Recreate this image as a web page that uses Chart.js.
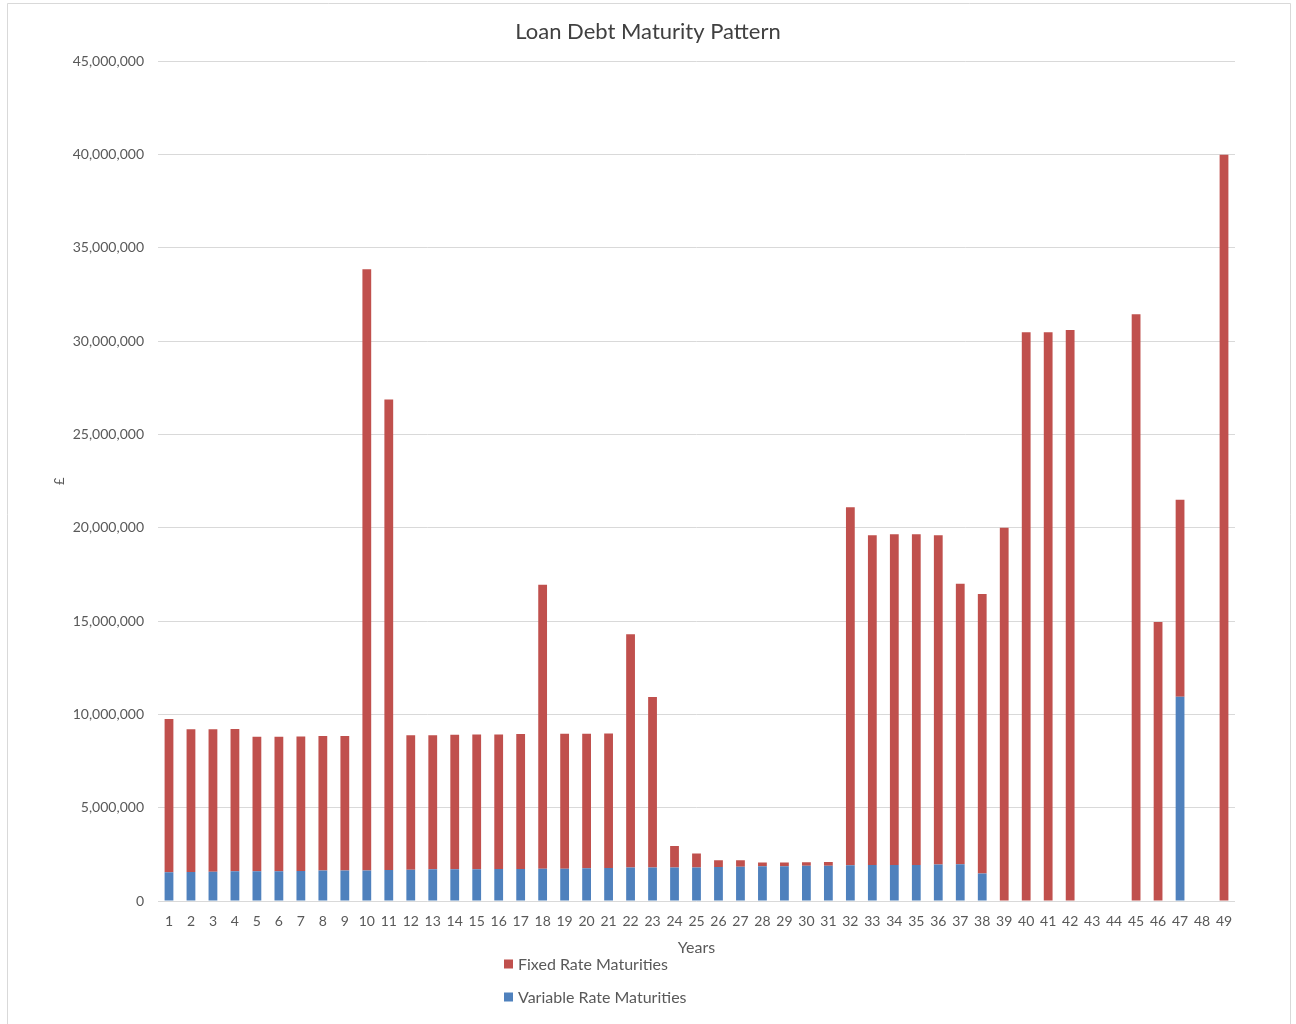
<!DOCTYPE html>
<html>
<head>
<meta charset="utf-8">
<title>Loan Debt Maturity Pattern</title>
<script src="https://cdn.jsdelivr.net/npm/chart.js@4.4.1/dist/chart.umd.min.js"></script>
<style>
  html, body { margin: 0; padding: 0; background: #ffffff; }
  #wrap { position: relative; width: 1296px; height: 1024px; }
  canvas { display: block; }
</style>
</head>
<body>
<div id="wrap"><canvas id="chart" width="1296" height="1024"></canvas></div>
<script>
// Maturity years
const years = ["1","2","3","4","5","6","7","8","9","10",
  "11","12","13","14","15","16","17","18","19","20",
  "21","22","23","24","25","26","27","28","29","30",
  "31","32","33","34","35","36","37","38","39","40",
  "41","42","43","44","45","46","47","48","49"];

// Variable rate maturities (£ millions)
const variableRate = [1.54,1.55,1.57,1.59,1.59,1.59,1.61,1.63,1.63,1.64,
  1.66,1.68,1.70,1.70,1.70,1.71,1.71,1.73,1.73,1.75,
  1.77,1.79,1.79,1.80,1.80,1.82,1.84,1.86,1.86,1.89,
  1.89,1.91,1.93,1.93,1.93,1.95,1.97,1.48,0,0,
  0,0,0,0,0,0,10.95,0,0];

// Fixed rate maturities (£ millions)
const fixedRate = [8.21,7.66,7.64,7.63,7.21,7.21,7.21,7.21,7.21,32.22,
  25.22,7.21,7.19,7.21,7.23,7.22,7.24,15.22,7.23,7.22,
  7.21,12.51,9.14,1.15,0.75,0.36,0.34,0.21,0.21,0.19,
  0.20,19.19,17.67,17.72,17.72,17.65,15.03,14.97,20.00,30.48,
  30.48,30.60,0,0,31.45,14.95,10.55,0,40.00];

// Y axis tick values (£)
const yTicks = [0,5000000,10000000,15000000,20000000,25000000,30000000,35000000,40000000,45000000];

const toPounds = arr => arr.map(v => Math.round(v * 1000000));

const TEXT = '#595959';
const FONT = 'Lato, "Open Sans", "Liberation Sans", sans-serif';

// Outer frame of the chart
const framePlugin = {
  id: 'frame',
  beforeDraw(chart) {
    const ctx = chart.ctx;
    ctx.save();
    ctx.fillStyle = '#ffffff';
    ctx.fillRect(0, 0, chart.width, chart.height);
    ctx.strokeStyle = '#D9D9D9';
    ctx.lineWidth = 1;
    ctx.beginPath();
    ctx.moveTo(7.5, 1030);
    ctx.lineTo(7.5, 3.5);
    ctx.lineTo(1290.5, 3.5);
    ctx.lineTo(1290.5, 1030);
    ctx.stroke();
    ctx.restore();
  }
};

// Legend stacked vertically below the axis title
const stackedLegend = {
  id: 'stackedLegend',
  afterDraw(chart) {
    const ctx = chart.ctx;
    const order = [1, 0];
    const x = 504, ys = [964, 997];
    ctx.save();
    ctx.font = '16px ' + FONT;
    ctx.textBaseline = 'middle';
    ctx.textAlign = 'left';
    order.forEach((di, i) => {
      const ds = chart.data.datasets[di];
      ctx.fillStyle = ds.backgroundColor;
      ctx.fillRect(x, ys[i] - 4.5, 9, 9);
      ctx.fillStyle = TEXT;
      ctx.fillText(ds.label, x + 14, ys[i] + 0.5);
    });
    ctx.restore();
  }
};

new Chart(document.getElementById('chart'), {
  type: 'bar',
  data: {
    labels: years,
    datasets: [
      {
        label: 'Variable Rate Maturities',
        data: toPounds(variableRate),
        backgroundColor: '#4F81BD',
        categoryPercentage: 1.0,
        barPercentage: 0.4
      },
      {
        label: 'Fixed Rate Maturities',
        data: toPounds(fixedRate),
        backgroundColor: '#C0504D',
        categoryPercentage: 1.0,
        barPercentage: 0.4
      }
    ]
  },
  options: {
    responsive: false,
    devicePixelRatio: 1,
    animation: false,
    layout: { padding: { left: 61, right: 61, top: 0, bottom: 67 } },
    plugins: {
      legend: { display: false },
      tooltip: { enabled: false },
      title: {
        display: true,
        text: 'Loan Debt Maturity Pattern',
        color: '#404040',
        font: { family: FONT, size: 22, weight: 'normal' },
        padding: { top: 19, bottom: 16 }
      }
    },
    scales: {
      x: {
        stacked: true,
        grid: { display: false, drawTicks: false },
        border: { display: false },
        ticks: {
          color: TEXT,
          font: { family: FONT, size: 14 },
          padding: 12,
          maxRotation: 0,
          autoSkip: false
        },
        title: {
          display: true,
          text: 'Years',
          color: TEXT,
          font: { family: FONT, size: 16 },
          padding: { top: 4, bottom: 0 }
        },
        afterFit(scale) { scale.height = 56; }
      },
      y: {
        stacked: true,
        min: 0,
        max: 45000000,
        afterBuildTicks(scale) { scale.ticks = yTicks.map(v => ({ value: v })); },
        grid: { color: '#D9D9D9', lineWidth: 1, drawTicks: false },
        border: { display: false },
        ticks: {
          color: TEXT,
          font: { family: FONT, size: 14 },
          padding: 14,
          callback: v => v.toLocaleString('en-GB')
        },
        title: {
          display: true,
          text: '£',
          color: TEXT,
          font: { family: FONT, size: 13 },
          padding: { top: -9, bottom: 0 }
        },
        afterFit(scale) { scale.width = 97; }
      }
    }
  },
  plugins: [framePlugin, stackedLegend]
});
</script>
</body>
</html>
